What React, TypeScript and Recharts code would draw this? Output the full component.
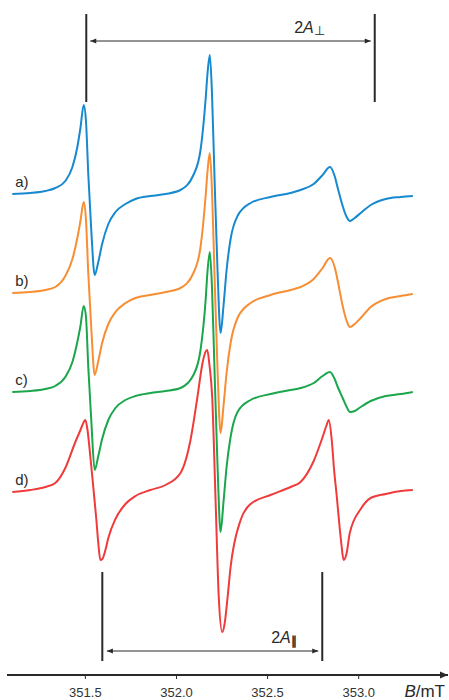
import React from 'react';
import { ComposedChart, Line, XAxis, YAxis, ReferenceLine, ReferenceDot } from 'recharts';

// Magnetic field (mT) sample positions for spectra a), b), c)
const fieldABC = [
  351.099, 351.198, 351.280, 351.335, 351.390, 351.429, 351.456, 351.473, 351.491, 351.503,
  351.516, 351.533, 351.551, 351.571, 351.592, 351.626, 351.665, 351.720, 351.775, 351.857,
  351.940, 352.022, 352.093, 352.132, 352.160, 352.170, 352.183, 352.195, 352.209, 352.225,
  352.242, 352.258, 352.275, 352.297, 352.335, 352.407, 352.516, 352.626, 352.681, 352.753,
  352.802, 352.842, 352.868, 352.885, 352.912, 352.934, 352.952, 352.978, 353.011, 353.066,
  353.148, 353.231, 353.297,
];

// EPR derivative signal (arb. units) for each spectrum
const signalA = [
  0, 1, 3, 6, 13, 27, 47, 66, 89, 74,
  20, -38, -81, -68, -50, -30, -18, -10, -5, -2,
  0, 4, 19, 44, 95, 120, 139, 100, 15, -75,
  -139, -112, -76, -45, -22, -9, -3, 1, 4, 10,
  19, 27, 18, 6, -12, -23, -27, -24, -19, -11,
  -5, -3, -2,
];
const signalB = [
  0, 1, 3, 6, 17, 34, 55, 72, 91, 74,
  20, -37, -82, -68, -50, -31, -19, -10, -5, -2,
  1, 5, 20, 46, 97, 121, 140, 102, 17, -75,
  -140, -113, -80, -50, -25, -10, -2, 3, 6, 14,
  25, 35, 26, 12, -13, -28, -34, -31, -25, -14,
  -6, -3, -1,
];
const signalC = [
  0, 1, 3, 6, 15, 30, 50, 66, 86, 76,
  25, -30, -78, -64, -47, -28, -16, -8, -4, -1,
  1, 4, 17, 42, 92, 120, 140, 104, 20, -72,
  -140, -110, -75, -45, -20, -8, -2, 2, 4, 9,
  16, 20, 13, 5, -6, -15, -20, -19, -15, -9,
  -4, -2, 0,
];

// Magnetic field (mT) sample positions for spectrum d)
const fieldD = [
  351.099, 351.198, 351.280, 351.335, 351.390, 351.445, 351.473, 351.484, 351.500, 351.511,
  351.527, 351.544, 351.560, 351.571, 351.582, 351.593, 351.610, 351.626, 351.665, 351.720,
  351.775, 351.857, 351.940, 352.022, 352.077, 352.115, 352.143, 352.157, 352.169, 352.181,
  352.196, 352.214, 352.232, 352.251, 352.264, 352.279, 352.297, 352.352, 352.407, 352.516,
  352.626, 352.681, 352.753, 352.802, 352.824, 352.836, 352.852, 352.865, 352.880, 352.893,
  352.905, 352.917, 352.934, 352.951, 353.011, 353.066, 353.148, 353.231, 353.297,
];
const signalD = [
  0, 2, 5, 9, 24, 50, 62, 67, 72, 63,
  36, 4, -27, -51, -68, -67, -58, -46, -27, -12,
  -4, 2, 7, 19, 52, 95, 129, 139, 142, 127,
  95, -5, -105, -140, -132, -108, -75, -28, -12, -3,
  5, 10, 31, 55, 67, 72, 52, 22, -5, -31,
  -52, -68, -61, -41, -17, -6, -2, 1, 2,
];

const traceLabels = ['a)', 'b)', 'c)', 'd)'];
const traceOffsets = [481, 382, 283, 183];
const traceColors = ['#1689cf', '#f78e33', '#1aa64b', '#ef3b3b'];

const xTicks = [351.5, 352.0, 352.5, 353.0];
const xDomain = [351.07, 353.49];

// hyperfine splitting markers (mT)
const perpMarkers = [351.505, 353.088];
const parMarkers = [351.593, 352.8];

const FONT = '"Liberation Sans", Arial, Helvetica, sans-serif';
const INK = '#2a2a2a';

const build = (field: number[], sig: number[], off: number) =>
  field.map((b, i) => ({ B: b, y: sig[i] + off }));

const series = [
  build(fieldABC, signalA, traceOffsets[0]),
  build(fieldABC, signalB, traceOffsets[1]),
  build(fieldABC, signalC, traceOffsets[2]),
  build(fieldD, signalD, traceOffsets[3]),
];

const ArrowShape = (props: any) => {
  const { x1, y1, x2, y2 } = props;
  const h = 6;
  const w = 2.5;
  return (
    <g>
      <line x1={x1} y1={y1} x2={x2} y2={y2} stroke={INK} strokeWidth={1} />
      <polygon points={`${x1},${y1} ${x1 + h},${y1 - w} ${x1 + h},${y1 + w}`} fill={INK} />
      <polygon points={`${x2},${y2} ${x2 - h},${y2 - w} ${x2 - h},${y2 + w}`} fill={INK} />
    </g>
  );
};

const makeText = (content: React.ReactNode, size: number, anchor: string, dx = 0) => (props: any) => {
  const { cx, cy } = props;
  return (
    <text x={cx + dx} y={cy} dy="0.35em" fontSize={size} fontFamily={FONT} fill={INK} textAnchor={anchor}>
      {content}
    </text>
  );
};

const AxisEnd = (props: any) => {
  const { cx, cy } = props;
  return (
    <g>
      <polygon points={`${cx},${cy} ${cx - 8},${cy - 3.5} ${cx - 8},${cy + 3.5}`} fill={INK} />
      <text x={cx - 3} y={cy + 22} fontSize={17} fontFamily={FONT} fill={INK} textAnchor="end">
        <tspan fontStyle="italic">B</tspan>/mT
      </text>
    </g>
  );
};

export default function App() {
  return (
    <div style={{ position: 'absolute', left: 0, top: 0, width: 449, height: 700, background: '#fff' }}>
      <ComposedChart width={449} height={700} margin={{ top: 0, right: 1, bottom: 0, left: 7 }}>
        <XAxis
          dataKey="B"
          type="number"
          domain={xDomain}
          allowDataOverflow
          ticks={xTicks}
          tickFormatter={(v: number) => v.toFixed(1)}
          height={25}
          tickSize={4}
          tickMargin={9}
          axisLine={{ stroke: INK, strokeWidth: 1.8 }}
          tickLine={{ stroke: INK }}
          tick={{ fontSize: 13, fill: '#333', fontFamily: FONT }}
        />
        <YAxis hide type="number" domain={[0, 675]} allowDataOverflow />
        {series.map((d, i) => (
          <Line
            key={i}
            data={d}
            dataKey="y"
            type="monotone"
            stroke={traceColors[i]}
            strokeWidth={2}
            dot={false}
            activeDot={false}
            isAnimationActive={false}
          />
        ))}
        {perpMarkers.map((b) => (
          <ReferenceLine key={'p' + b} segment={[{ x: b, y: 573 }, { x: b, y: 661 }]} stroke={INK} strokeWidth={2} ifOverflow="visible" />
        ))}
        <ReferenceLine
          segment={[{ x: perpMarkers[0] + 0.022, y: 634 }, { x: perpMarkers[1] - 0.022, y: 634 }]}
          shape={ArrowShape}
          ifOverflow="visible"
        />
        {parMarkers.map((b) => (
          <ReferenceLine key={'q' + b} segment={[{ x: b, y: 14 }, { x: b, y: 103 }]} stroke={INK} strokeWidth={2} ifOverflow="visible" />
        ))}
        <ReferenceLine
          segment={[{ x: parMarkers[0] + 0.025, y: 24 }, { x: parMarkers[1] - 0.022, y: 24 }]}
          shape={ArrowShape}
          ifOverflow="visible"
        />
        <ReferenceDot
          x={352.73}
          y={648}
          r={0}
          ifOverflow="visible"
          shape={makeText(<>2<tspan fontStyle="italic">A</tspan><tspan fontSize={13} dy={2}>⊥</tspan></>, 16, 'middle')}
        />
        <ReferenceDot
          x={352.59}
          y={38}
          r={0}
          ifOverflow="visible"
          shape={makeText(<>2<tspan fontStyle="italic">A</tspan><tspan fontSize={12} fontWeight="bold" dy={2}>∥</tspan></>, 16, 'middle')}
        />
        {traceLabels.map((t, i) => (
          <ReferenceDot
            key={t}
            x={351.099}
            y={traceOffsets[i] + 12}
            r={0}
            ifOverflow="visible"
            shape={makeText(t, 15, 'start', 3)}
          />
        ))}
        <ReferenceDot x={xDomain[1]} y={0} r={0} ifOverflow="visible" shape={AxisEnd} />
      </ComposedChart>
    </div>
  );
}
